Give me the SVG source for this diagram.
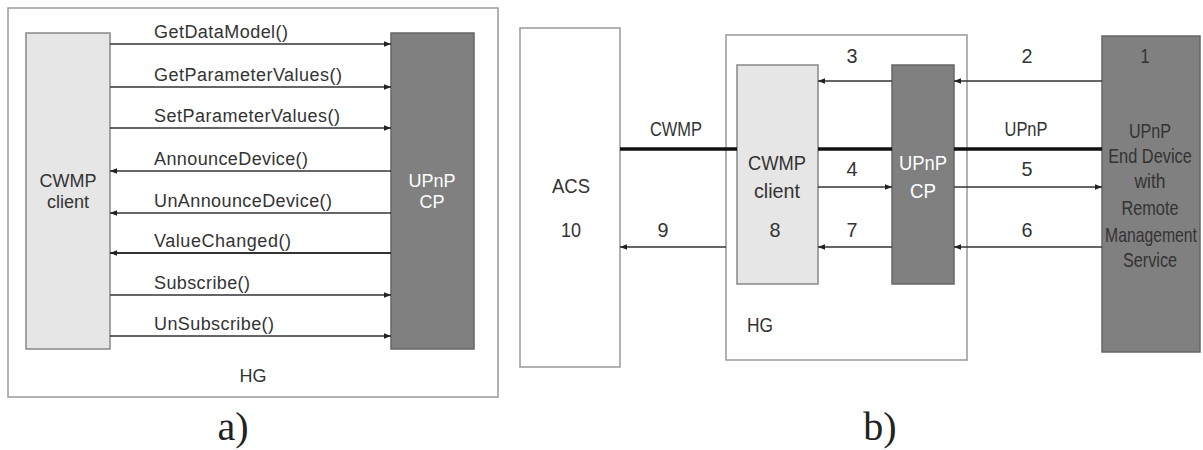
<svg xmlns="http://www.w3.org/2000/svg" width="1203" height="450" viewBox="0 0 1203 450">
<style>
.t{font-family:"Liberation Sans",Arial,sans-serif;fill:#333;}
.a{font-size:18px;}
.b{font-size:21px;}
.w{fill:#fff;}
.lab{font-family:"Liberation Serif","Times New Roman",serif;font-size:40px;fill:#222;}
.frame{fill:#fff;stroke:#999;stroke-width:1.5;}
.light{fill:#e6e6e6;stroke:#888;stroke-width:1.5;}
.dark{fill:#808080;stroke:#666;stroke-width:1.5;}
.ar{stroke:#333;stroke-width:1.3;fill:none;marker-end:url(#ah);}
.thick{stroke:#111;stroke-width:3.5;fill:none;}
</style>
<defs>
<marker id="ah" viewBox="0 0 10 10" refX="10" refY="5" markerWidth="7" markerHeight="7" markerUnits="userSpaceOnUse" orient="auto">
<path d="M0,1 L10,5 L0,9 z" fill="#222"/>
</marker>
</defs>
<rect width="1203" height="450" fill="#fff"/>

<!-- panel a -->
<g id="hg-a">
<rect class="frame" x="8" y="8" width="490" height="389"/>
<text class="t a" x="253" y="382" text-anchor="middle">HG</text>
</g>
<g id="cwmp-a">
<rect class="light" x="26" y="33" width="84" height="316"/>
<text class="t a" x="68" y="187" text-anchor="middle">CWMP</text>
<text class="t a" x="68" y="208" text-anchor="middle">client</text>
</g>
<g id="upnp-a">
<rect class="dark" x="391" y="33" width="83" height="316"/>
<text class="t a w" x="432" y="187" text-anchor="middle">UPnP</text>
<text class="t a w" x="432" y="208" text-anchor="middle">CP</text>
</g>
<g id="connectors-a">
<line class="ar" x1="110" y1="44" x2="391" y2="44"/>
<line class="ar" x1="110" y1="87" x2="391" y2="87"/>
<line class="ar" x1="110" y1="128" x2="391" y2="128"/>
<line class="ar" x1="391" y1="171" x2="110" y2="171"/>
<line class="ar" x1="391" y1="213" x2="110" y2="213"/>
<line class="ar" x1="391" y1="253" x2="110" y2="253" style="stroke-width:2"/>
<line class="ar" x1="110" y1="295" x2="391" y2="295"/>
<line class="ar" x1="110" y1="336" x2="391" y2="336"/>
<text class="t a" x="154" y="38" textLength="134">GetDataModel()</text>
<text class="t a" x="154" y="81" textLength="188">GetParameterValues()</text>
<text class="t a" x="154" y="122" textLength="186">SetParameterValues()</text>
<text class="t a" x="154" y="165" textLength="154">AnnounceDevice()</text>
<text class="t a" x="154" y="207" textLength="178">UnAnnounceDevice()</text>
<text class="t a" x="154" y="247" textLength="137">ValueChanged()</text>
<text class="t a" x="154" y="289" textLength="96">Subscribe()</text>
<text class="t a" x="154" y="330" textLength="120">UnSubscribe()</text>
</g>
<text class="lab" x="233" y="440" text-anchor="middle">a)</text>

<!-- panel b -->
<g id="acs">
<rect class="frame" x="520" y="28" width="100" height="339"/>
<text class="t b" x="571" y="193" text-anchor="middle" textLength="38" lengthAdjust="spacingAndGlyphs">ACS</text>
<text class="t b" x="571" y="237" text-anchor="middle" textLength="20" lengthAdjust="spacingAndGlyphs">10</text>
</g>
<g id="hg-b">
<rect class="frame" x="726" y="35" width="241" height="325"/>
<text class="t b" x="747" y="332" textLength="26" lengthAdjust="spacingAndGlyphs">HG</text>
</g>
<g id="cwmp-b">
<rect class="light" x="737" y="65" width="81" height="219"/>
<text class="t b" x="777" y="170" text-anchor="middle" textLength="58" lengthAdjust="spacingAndGlyphs">CWMP</text>
<text class="t b" x="777" y="198" text-anchor="middle" textLength="46" lengthAdjust="spacingAndGlyphs">client</text>
<text class="t b" x="775" y="237" text-anchor="middle" textLength="11" lengthAdjust="spacingAndGlyphs">8</text>
</g>
<g id="upnp-b">
<rect class="dark" x="892" y="65" width="62" height="219"/>
<text class="t b w" x="923" y="170" text-anchor="middle" textLength="48" lengthAdjust="spacingAndGlyphs">UPnP</text>
<text class="t b w" x="923" y="198" text-anchor="middle" textLength="26" lengthAdjust="spacingAndGlyphs">CP</text>
</g>
<g id="enddevice">
<rect class="dark" x="1102" y="36" width="98" height="316"/>
<text class="t b" x="1145" y="63" text-anchor="middle" textLength="9" lengthAdjust="spacingAndGlyphs">1</text>
<text class="t b" x="1150" y="138" text-anchor="middle" textLength="42" lengthAdjust="spacingAndGlyphs">UPnP</text>
<text class="t b" transform="translate(1150,163) scale(0.78,1)" text-anchor="middle">End Device</text>
<text class="t b" x="1150" y="188" text-anchor="middle" textLength="31" lengthAdjust="spacingAndGlyphs">with</text>
<text class="t b" x="1150" y="215" text-anchor="middle" textLength="57" lengthAdjust="spacingAndGlyphs">Remote</text>
<text class="t b" transform="translate(1151,242) scale(0.75,1)" text-anchor="middle">Management</text>
<text class="t b" x="1150" y="267" text-anchor="middle" textLength="54" lengthAdjust="spacingAndGlyphs">Service</text>
</g>
<g id="connectors-b">
<line class="thick" x1="620" y1="149" x2="737" y2="149"/>
<line class="thick" x1="818" y1="149" x2="892" y2="149"/>
<line class="thick" x1="954" y1="149" x2="1102" y2="149"/>
<text class="t b" x="676" y="136" text-anchor="middle" textLength="52" lengthAdjust="spacingAndGlyphs">CWMP</text>
<text class="t b" x="1026" y="136" text-anchor="middle" textLength="43" lengthAdjust="spacingAndGlyphs">UPnP</text>
<line class="ar" x1="892" y1="81" x2="818" y2="81"/>
<line class="ar" x1="1102" y1="81" x2="954" y2="81"/>
<line class="ar" x1="818" y1="187" x2="892" y2="187"/>
<line class="ar" x1="954" y1="187" x2="1102" y2="187"/>
<line class="ar" x1="1102" y1="247" x2="954" y2="247"/>
<line class="ar" x1="892" y1="247" x2="818" y2="247"/>
<line class="ar" x1="726" y1="247" x2="620" y2="247"/>
<text class="t b" x="852" y="63" text-anchor="middle" textLength="11" lengthAdjust="spacingAndGlyphs">3</text>
<text class="t b" x="1027" y="63" text-anchor="middle" textLength="11" lengthAdjust="spacingAndGlyphs">2</text>
<text class="t b" x="852" y="176" text-anchor="middle" textLength="11" lengthAdjust="spacingAndGlyphs">4</text>
<text class="t b" x="1027" y="176" text-anchor="middle" textLength="11" lengthAdjust="spacingAndGlyphs">5</text>
<text class="t b" x="1027" y="237" text-anchor="middle" textLength="11" lengthAdjust="spacingAndGlyphs">6</text>
<text class="t b" x="852" y="237" text-anchor="middle" textLength="11" lengthAdjust="spacingAndGlyphs">7</text>
<text class="t b" x="663" y="237" text-anchor="middle" textLength="11" lengthAdjust="spacingAndGlyphs">9</text>
</g>
<text class="lab" x="880" y="440" text-anchor="middle">b)</text>
</svg>
